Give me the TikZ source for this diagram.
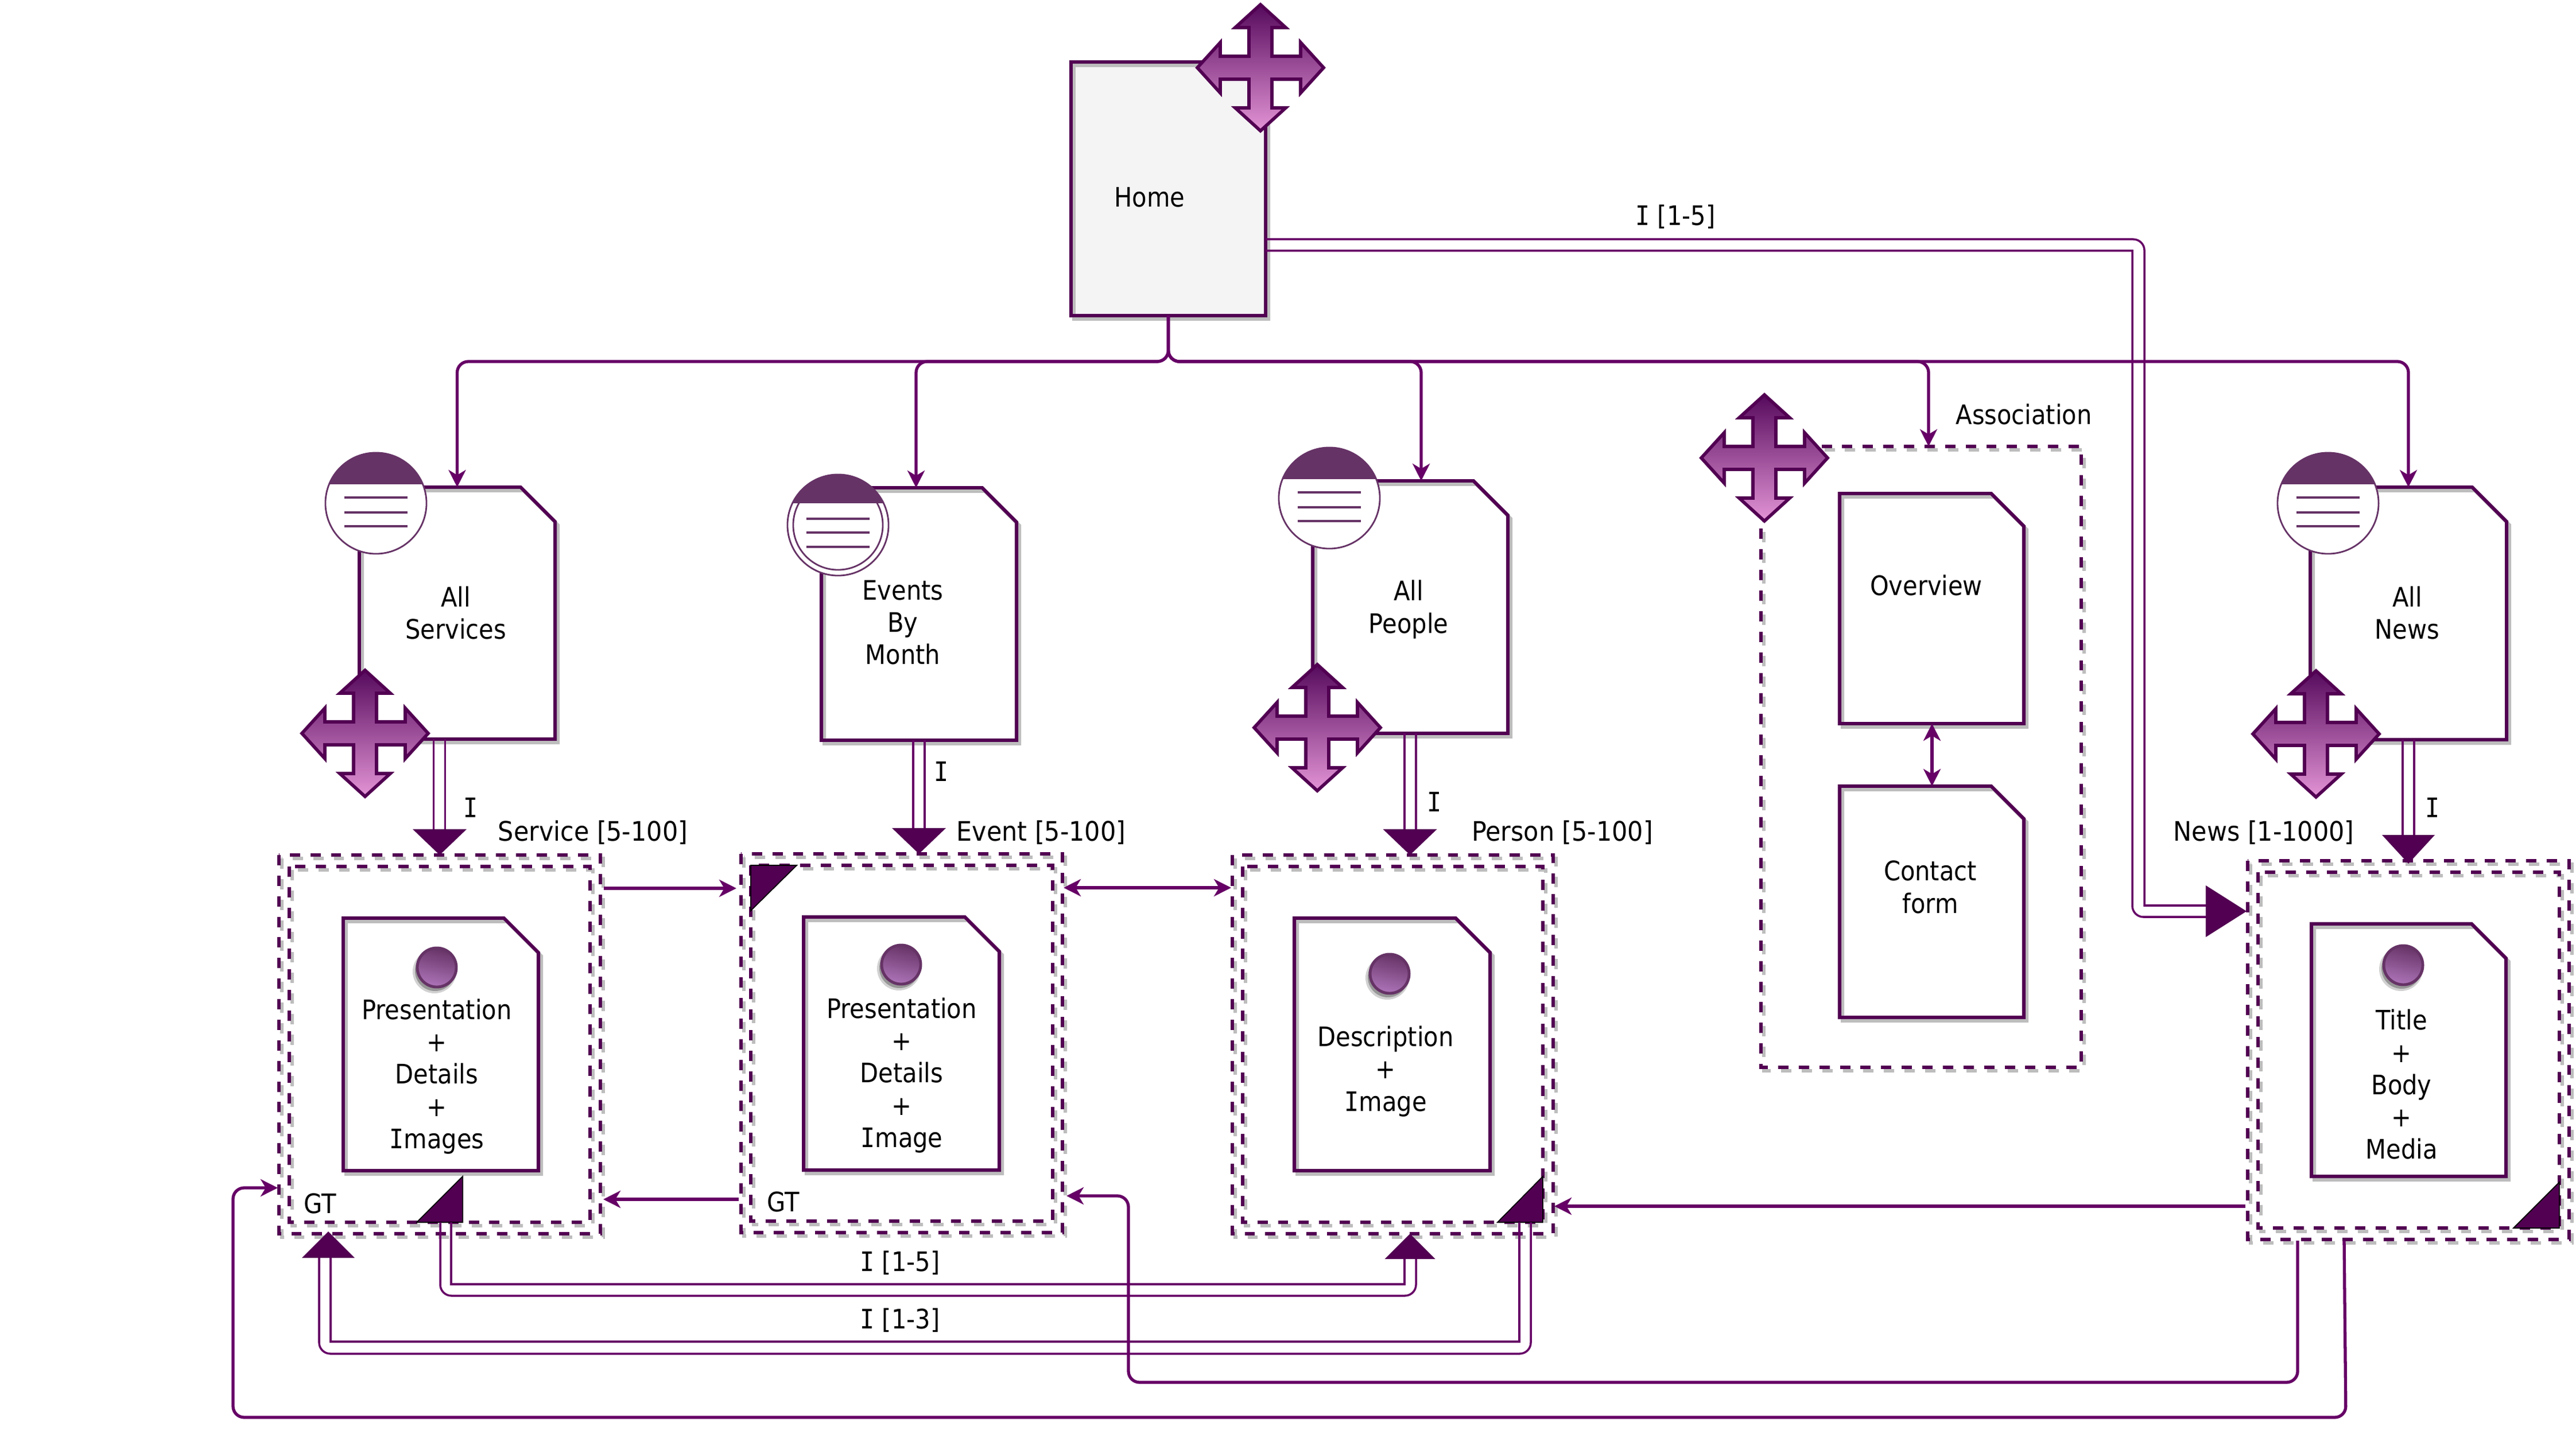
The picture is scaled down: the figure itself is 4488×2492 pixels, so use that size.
\documentclass[tikz,border=0pt]{standalone}
\usepackage{fontspec}
\setmainfont{DejaVu Sans}[FakeStretch=0.89]
\newfontfamily\serI{DejaVu Sans Mono}[FakeStretch=0.89]
\usetikzlibrary{arrows.meta,calc}
\definecolor{hdark}{HTML}{520052}
\definecolor{conncol}{HTML}{660066}
\definecolor{shadowcol}{HTML}{BDBDBD}
\definecolor{listcol}{HTML}{663366}
\definecolor{icontop}{HTML}{560A5C}
\definecolor{iconmid}{HTML}{9C4E9A}
\definecolor{iconbot}{HTML}{E394D6}
\definecolor{balltop}{HTML}{663366}
\definecolor{ballbot}{HTML}{AD74B8}
\definecolor{homefill}{HTML}{F4F4F4}
\newcommand{\capI}{{\serI I}}
\newcommand{\wider}[1]{\scalebox{1.03}[1]{#1}}
\tikzset{
  x=0.01cm,y=-0.01cm,
  anchorbox/.style={rectangle,inner sep=0pt,outer sep=0pt},
  docline/.style={draw=hdark,line width=1.7pt,miter limit=4},
  docshadow/.style={draw=shadowcol,line width=1.7pt},
  dashline/.style={draw=hdark,line width=1.7pt,dash pattern=on 5.1pt off 5.1pt},
  dashshadow/.style={draw=shadowcol,line width=1.7pt,dash pattern=on 5.1pt off 5.1pt},
  conn/.style={draw=conncol,line width=1.5pt,rounded corners=5.5pt},
  dbl/.style={draw=conncol,line width=1pt,rounded corners=5.5pt},
  dblsharp/.style={draw=conncol,line width=1pt},
  tip/.style={-{Stealth[length=8.5pt,width=8.5pt,inset=2.5pt]}},
  bitip/.style={{Stealth[length=8.5pt,width=8.5pt,inset=2.5pt]}-{Stealth[length=8.5pt,width=8.5pt,inset=2.5pt]}},
  headfill/.style={fill=hdark},
  cornertri/.style={fill=hdark,draw=black,line width=0.5pt,line join=miter},
  txt/.style={font=\fontsize{13.3}{16}\selectfont,align=center,text=black,inner sep=0pt},
  iconshape/.style={draw=hdark,line width=1.6pt,top color=icontop,middle color=iconmid,bottom color=iconbot},
  ballshape/.style={circle,draw=listcol,line width=1.4pt,top color=balltop,bottom color=ballbot,shading angle=-12,minimum size=0.68cm,inner sep=0pt},
  listshape/.style={circle,draw=listcol,line width=0.8pt,fill=white,minimum size=1.76cm,inner sep=0pt,outer sep=0pt},
}
% name, x1, y1, x2, y2, fold, fill
\newcommand{\docbox}[7]{%
  \node[anchorbox,minimum width={(#4-#2)*0.01cm},minimum height={(#5-#3)*0.01cm}] (#1) at ({(#2+#4)/2},{(#3+#5)/2}) {};
  \fill[#7] (#2,#3) -- (#4-#6,#3) -- (#4,#3+#6) -- (#4,#5) -- (#2,#5) -- cycle;
  \draw[docshadow] (#2+5,#3+6) -- (#4-#6+5,#3+6) -- (#4+5,#3+#6+6) -- (#4+5,#5+6) -- (#2+5,#5+6) -- cycle;
  \draw[docline] (#1.north west) -- ($(#1.north east)+(-#6,0)$) -- ($(#1.north east)+(0,#6)$) -- (#1.south east) -- (#1.south west) -- cycle;
}
\newcommand{\dashedgroup}[5]{%
  \node[anchorbox,minimum width={(#4-#2)*0.01cm},minimum height={(#5-#3)*0.01cm}] (#1) at ({(#2+#4)/2},{(#3+#5)/2}) {};
  \draw[dashshadow] (#2+5,#3+6) rectangle (#4+5,#5+6);
  \draw[dashline] (#2,#3) rectangle (#4,#5);
}
\newcommand{\moveicon}[3]{%
  \coordinate (#1) at (#2,#3);
  \begin{scope}[shift={(#2,#3)}]
    \path[iconshape] (0,-110) -- (44,-70) -- (20,-70) -- (20,-20) -- (70,-20) -- (70,-44) -- (110,0) -- (70,44) -- (70,20) -- (20,20) -- (20,70) -- (44,70) -- (0,110) -- (-44,70) -- (-20,70) -- (-20,20) -- (-70,20) -- (-70,44) -- (-110,0) -- (-70,-44) -- (-70,-20) -- (-20,-20) -- (-20,-70) -- (-44,-70) -- cycle;
  \end{scope}
}
\newcommand{\ballicon}[3]{%
  \fill[black,opacity=0.18] (#2-4,#3+7) circle [radius=38];
  \fill[black,opacity=0.28] (#2-3,#3+6) circle [radius=35];
  \node[ballshape] (#1) at (#2,#3) {};
}
% name x y capoffset line1 line2 line3
\newcommand{\listicon}[7]{%
  \node[listshape] (#1) at (#2,#3) {};
  \begin{scope}
    \clip (#2,#3) circle [radius=89];
    \fill[listcol] (#2-100,#3-100) rectangle (#2+100,#3+#4);
  \end{scope}
  \draw[listcol,line width=0.9pt] ($(#1.center)+(-55,#5)$) -- ++(110,0);
  \draw[listcol,line width=0.9pt] ($(#1.center)+(-55,#6)$) -- ++(110,0);
  \draw[listcol,line width=0.9pt] ($(#1.center)+(-55,#7)$) -- ++(110,0);
}
\begin{document}
\begin{tikzpicture}
\useasboundingbox (0,0) rectangle (4488,2492);
% pages
\docbox{home}{1866}{108}{2205}{550}{0}{fill=homefill}
\docbox{svcd}{626}{849}{967}{1288}{60}{fill=white}
\docbox{evtd}{1431}{850}{1771}{1290}{60}{fill=white}
\docbox{perd}{2287}{838}{2627}{1278}{60}{fill=white}
\docbox{newd}{4025}{849}{4367}{1289}{60}{fill=white}
% association group
\dashedgroup{assoc}{3068}{778}{3626}{1860}
\docbox{over}{3205}{860}{3526}{1261}{57}{fill=white}
\docbox{cont}{3205}{1370}{3526}{1773}{57}{fill=white}
% double containers
\dashedgroup{svc}{486}{1490}{1046}{2150}
\dashedgroup{svci}{504}{1510}{1028}{2130}
\dashedgroup{evt}{1291}{1488}{1851}{2148}
\dashedgroup{evti}{1308}{1508}{1834}{2128}
\dashedgroup{per}{2147}{1490}{2706}{2150}
\dashedgroup{peri}{2165}{1510}{2688}{2130}
\dashedgroup{nws}{3916}{1500}{4476}{2160}
\dashedgroup{nwsi}{3934}{1520}{4459}{2140}
% inner pages
\docbox{svcc}{598}{1600}{938}{2040}{60}{fill=white}
\docbox{evtc}{1400}{1598}{1741}{2039}{60}{fill=white}
\docbox{perc}{2255}{1600}{2596}{2040}{60}{fill=white}
\docbox{nwsc}{4027}{1610}{4366}{2050}{60}{fill=white}
% corner triangles
\path[cornertri] (svci.south east) ++(-302,0) -- ++(80,0) -- ++(0,-80) -- cycle;
\path[cornertri] (evti.north west) -- ++(80,0) -- ++(-80,79) -- cycle;
\path[cornertri] (peri.south east) -- ++(-79,0) -- ++(79,-80) -- cycle;
\path[cornertri] (nwsi.south east) -- ++(-80,0) -- ++(80,-80) -- cycle;
% tree from Home
\draw[conn,tip] (home.south) -- ++(0,80) -| (svcd.north);
\draw[conn,tip] (home.south) -- ++(0,80) -| ($(evtd.north)+(-5,0)$);
\draw[conn,tip] (home.south) -- ++(0,80) -| ($(perd.north)+(19,0)$);
\draw[conn,tip] (home.south) -- ++(0,80) -| ($(assoc.north)+(13,0)$);
\draw[conn,tip] (home.south) -- ++(0,80) -| (newd.north);
% Home to News
\coordinate (nwsTip) at ($(nws.west)+(-2,-242)$);
\draw[dbl] (2205,417) -- (3736,417) [sharp corners] -- (3736,1578) -- (3843,1578);
\draw[dblsharp] (2205,437) -- (3715,437) [rounded corners=5.5pt] -- (3715,1598) [sharp corners] -- (3843,1598);
\fill[headfill] (nwsTip) -- ++(-71,-45) -- ++(0,90) -- cycle;
% page to collection doubles
\coordinate (svcTip) at (svc.north);
\coordinate (evtTip) at ($(evt.north)+(30,0)$);
\coordinate (perTip) at ($(per.north)+(30,0)$);
\coordinate (nwsTop) at (nws.north);
\draw[dbl] ($(svcd.south)+(-41,0)$) -- ++(0,157);
\draw[dbl] ($(svcd.south)+(-21,0)$) -- ++(0,157);
\fill[headfill] (svcTip) -- ++(-47,-45) -- ++(94,0) -- cycle;
\draw[dbl] ($(evtd.south)+(-10,0)$) -- ++(0,155);
\draw[dbl] ($(evtd.south)+(10,0)$) -- ++(0,155);
\fill[headfill] (evtTip) -- ++(-47,-45) -- ++(94,0) -- cycle;
\draw[dbl] ($(perd.south)+(-10,0)$) -- ++(0,167);
\draw[dbl] ($(perd.south)+(10,0)$) -- ++(0,167);
\fill[headfill] (perTip) -- ++(-47,-45) -- ++(94,0) -- cycle;
\draw[dbl] ($(newd.south)+(-10,0)$) -- ++(0,166);
\draw[dbl] ($(newd.south)+(10,0)$) -- ++(0,166);
\fill[headfill] ($(nwsTop)+(0,5)$) -- ++(-46,-50) -- ++(92,0) -- cycle;
% container arrows
\draw[conn,tip] ($(svc.north east)+(6,58)$) -- ($(evt.north west)+(-8,60)$);
\draw[conn,bitip] ($(evt.north east)+(2,59)$) -- ($(per.north west)+(-2,57)$);
\draw[conn,tip] ($(evt.south west)+(-4,-58)$) -- ($(svc.south east)+(5,-60)$);
\draw[conn,tip] ($(nws.south west)+(-4,-58)$) -- ($(per.south east)+(2,-48)$);
\draw[conn,bitip] ($(over.south)+(0.5,0)$) -- ($(cont.north)+(0.5,0)$);
% Service to Person I [1-5]
\coordinate (perBot) at ($(per.south)+(30,0)$);
\draw[dblsharp] (786,2130) -- (786,2238) -- (2447,2238) -- (2447,2192);
\draw[dbl] (767,2130) -- (767,2258) -- (2467,2258) -- (2467,2192);
\fill[headfill] (perBot) -- ++(-44,44) -- ++(88,0) -- cycle;
% Person to Service I [1-3]
\coordinate (svcBot) at ($(svc.south)+(-194,-4)$);
\draw[dblsharp] (2647,2130) -- (2647,2338) -- (576,2338) -- (576,2192);
\draw[dbl] (2667,2130) -- (2667,2359) -- (556,2359) -- (556,2192);
\fill[headfill] (svcBot) -- ++(-46,46) -- ++(92,0) -- cycle;
% News to Event, News to Service
\draw[conn,tip] (4003,2162) -- (4003,2409) -- (1966,2409) -- (1966,2084) -- ($(evt.south east)+(7,-64)$);
\draw[conn,tip] (4084,2162) -- (4087,2470) -- (406,2470) -- (406,2070) -- ($(svc.south west)+(-2,-80)$);
% icons
\listicon{l1}{655}{877}{-33}{-10}{16}{40}
\node[listshape] (l2out) at (1460,915) {};
\node[circle,draw=listcol,line width=0.8pt,fill=white,minimum size=1.56cm,inner sep=0pt] (l2in) at (1460,915) {};
\begin{scope}
  \clip (1460,915) circle [radius=89];
  \fill[listcol] (1360,815) rectangle (1560,877);
\end{scope}
\draw[listcol,line width=0.9pt] ($(l2out.center)+(-55,-11)$) -- ++(110,0);
\draw[listcol,line width=0.9pt] ($(l2out.center)+(-55,13)$) -- ++(110,0);
\draw[listcol,line width=0.9pt] ($(l2out.center)+(-55,38)$) -- ++(110,0);
\listicon{l3}{2316}{868}{-33}{-10}{16}{40}
\listicon{l4}{4056}{877}{-33}{-10}{16}{40}
\ballicon{b1}{761}{1686}
\ballicon{b2}{1570}{1681}
\ballicon{b3}{2421}{1697}
\ballicon{b4}{4187}{1682}
\moveicon{m1}{2196}{118}
\moveicon{m2}{636}{1278}
\moveicon{m3}{2295}{1268}
\moveicon{m4}{4035}{1279}
\moveicon{m5}{3074}{798}
% text
\node[txt] (t1) at (2003,344) {Home};
\node[txt] (t2) at (794,1068) {All\\Services};
\node[txt] (t3) at (1573,1085) {Events\\By\\Month};
\node[txt] (t4) at (2454,1062) {All\\People};
\node[txt] (t5) at (4194,1068) {All\\News};
\node[txt] (t6) at (3356,1020) {Overview};
\node[txt] (t7) at (3363,1546) {Contact\\form};
\node[txt] (t8) at (761,1876) {Presentation\\+\\Details\\+\\\capI{}mages};
\node[txt] (t9) at (1571,1874) {Presentation\\+\\Details\\+\\\capI{}mage};
\node[txt] (t10) at (2414,1867) {Description\\+\\\capI{}mage};
\node[txt] (t11) at (4184,1890) {Title\\+\\Body\\+\\Media};
\node[txt] (t12) at (1033,1451) {\wider{Service [5-100]}};
\node[txt] (t13) at (1814,1451) {\wider{Event [5-100]}};
\node[txt] (t14) at (2722,1451) {\wider{Person [5-100]}};
\node[txt] (t15) at (3944,1451) {\wider{News [1-1000]}};
\node[txt] (t16) at (3526,722) {Association};
\node[txt] (t17) at (2919,378) {\capI{} [1-5]};
\node[txt] (t18) at (1568,2201) {\capI{} [1-5]};
\node[txt] (t19) at (1568,2301) {\capI{} [1-3]};
\node[txt] (t20) at (820,1407) {\capI};
\node[txt] (t21) at (1640,1344) {\capI};
\node[txt] (t22) at (2499,1397) {\capI};
\node[txt] (t23) at (4238,1407) {\capI};
\node[txt] (t24) at (558,2097) {GT};
\node[txt] (t25) at (1365,2094) {GT};
\end{tikzpicture}
\end{document}
